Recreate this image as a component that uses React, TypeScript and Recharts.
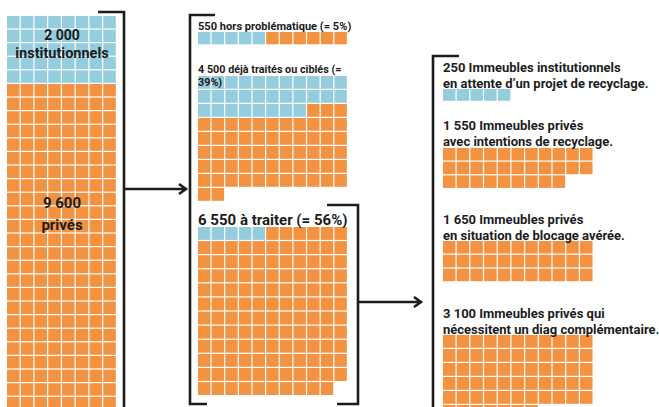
import { ScatterChart, Scatter, XAxis, YAxis } from 'recharts'

const W = 659
const H = 407
const UNIT = 50 // un carré = 50 immeubles

const BLUE = '#95cddf'
const ORANGE = '#f39240'
const INK = '#1c1c1c'
const FONT = 'Roboto, "Noto Sans", sans-serif'

// stock de départ
const totalInstitutionnels = [2000]
const totalPrives = [9600]

// répartition
const stepInstitutionnels = [250, 1500, 250]
const stepPrives = [300, 3000, 6300]

// immeubles à traiter
const finalInstitutionnels = [250, 0, 0, 0]
const finalPrives = [0, 1550, 1650, 3100]

const finalLabels = [
  ['250 Immeubles institutionnels', 'en attente d’un projet de recyclage.'],
  ['1 550 Immeubles privés', 'avec intentions de recyclage.'],
  ['1 650 Immeubles privés', 'en situation de blocage avérée.'],
  ['3 100 Immeubles privés qui', 'nécessitent un diag complémentaire.'],
]

// placement des grilles
const leftBlocks = [{ x: 7, y: 16, cols: 8, cw: 13.75, ch: 13.6 }]
const stepBlocks = [
  { x: 198, y: 32, cols: 11, cw: 13.64, ch: 13.5 },
  { x: 198, y: 76, cols: 11, cw: 13.64, ch: 14 },
  { x: 198, y: 227, cols: 11, cw: 13.64, ch: 14.1 },
]
const finalBlocks = [
  { x: 443, y: 89, cols: 11, cw: 13.7, ch: 13 },
  { x: 443, y: 148, cols: 11, cw: 13.7, ch: 13.7 },
  { x: 443, y: 241, cols: 11, cw: 13.7, ch: 13.8 },
  { x: 443, y: 335, cols: 11, cw: 13.7, ch: 14 },
]

type Pt = { x: number; y: number; w: number; h: number }

function waffle(inst: number[], priv: number[], blocks: typeof stepBlocks) {
  const blue: Pt[] = []
  const orange: Pt[] = []
  blocks.forEach((b, k) => {
    const nb = Math.round(inst[k] / UNIT)
    const n = nb + Math.round(priv[k] / UNIT)
    for (let i = 0; i < n; i++) {
      const p = { x: b.x + (i % b.cols) * b.cw, y: b.y + Math.floor(i / b.cols) * b.ch, w: b.cw, h: b.ch }
      if (p.y > H) continue
      ;(i < nb ? blue : orange).push(p)
    }
  })
  return { blue, orange }
}

const parts = [
  waffle(totalInstitutionnels, totalPrives, leftBlocks),
  waffle(stepInstitutionnels, stepPrives, stepBlocks),
  waffle(finalInstitutionnels, finalPrives, finalBlocks),
]
const blueCells = parts.flatMap((p) => p.blue)
const orangeCells = parts.flatMap((p) => p.orange)

const Square = (props: any) => {
  const { cx, cy, payload, fill } = props
  return <rect x={cx} y={cy} width={payload.w - 1.2} height={payload.h - 1.2} fill={fill} />
}

export default function App() {
  return (
    <div style={{ position: 'absolute', left: 0, top: 0, width: W, height: H, background: '#fff', overflow: 'hidden' }}>
      <ScatterChart width={W} height={H} margin={{ top: 0, right: 0, bottom: 0, left: 0 }}>
        <XAxis type="number" dataKey="x" domain={[0, W]} allowDataOverflow hide />
        <YAxis type="number" dataKey="y" domain={[0, H]} allowDataOverflow reversed hide />
        <Scatter data={blueCells} fill={BLUE} shape={Square} isAnimationActive={false} />
        <Scatter data={orangeCells} fill={ORANGE} shape={Square} isAnimationActive={false} />
      </ScatterChart>
      <svg width={W} height={H} style={{ position: 'absolute', left: 0, top: 0, pointerEvents: 'none' }} fontFamily={FONT} fontWeight={700} fill={INK}>
        <g stroke={INK} strokeWidth={2.6} fill="none">
          <path d="M98 12 H124 V407" />
          <path d="M215 15 H190 V404 H207" />
          <path d="M327 205 H358 V404 H337" />
          <path d="M459 56 H433 V407" />
          <path d="M124 189 H185 M179 184 L186 189 L179 194" />
          <path d="M358 302 H420 M414 297 L421 302 L414 307" />
        </g>
        <text x={62} y={40} fontSize={14} textAnchor="middle">2 000</text>
        <text x={62} y={58} fontSize={14.5} textAnchor="middle">institutionnels</text>
        <text x={62} y={208} fontSize={15} textAnchor="middle">9 600</text>
        <text x={62} y={230} fontSize={15} textAnchor="middle">privés</text>

        <text x={198} y={30} fontSize={11.1}>550 hors problématique (= 5%)</text>
        <text x={198} y={73} fontSize={10.8}>4 500 déjà traités ou ciblés (=</text>
        <text x={198} y={86} fontSize={10.8}>39%)</text>
        <text x={198} y={224.5} fontSize={15}>6 550 à traiter (= 56%)</text>

        {finalLabels.map((l, i) => {
          const top = [67, 125, 219, 313][i]
          return (
            <g key={i}>
              <text x={443} y={top + 4.5} fontSize={13}>{l[0]}</text>
              <text x={443} y={top + 20.5} fontSize={13}>{l[1]}</text>
            </g>
          )
        })}
      </svg>
    </div>
  )
}
